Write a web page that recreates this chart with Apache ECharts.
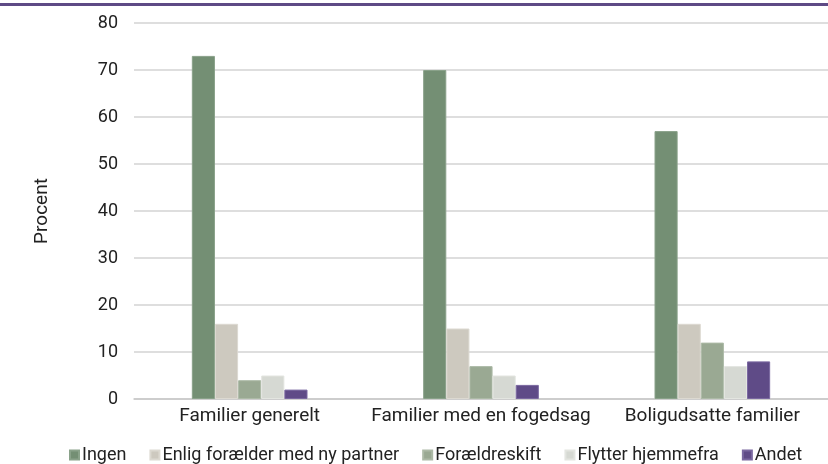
<!DOCTYPE html>
<html><head><meta charset="utf-8">
<script src="https://cdn.jsdelivr.net/npm/echarts@6/dist/echarts.min.js"></script>
<style>html,body{margin:0;padding:0;background:#fff}#c{width:828px;height:464px}</style>
</head><body><div id="c"></div>
<script>
const categories = ['Familier generelt', 'Familier med en fogedsag', 'Boligudsatte familier'];
const seriesNames = ['Ingen', 'Enlig forælder med ny partner', 'Forældreskift', 'Flytter hjemmefra', 'Andet'];
const ingen = [73, 70, 57];
const enlig = [16, 15, 16];
const foraeldreskift = [4, 7, 12];
const flytter = [5, 5, 7];
const andet = [2, 3, 8];
const yTicks = [0, 10, 20, 30, 40, 50, 60, 70, 80];
const colors = ['#748f74', '#cdc9bf', '#9aa993', '#d6d9d3', '#5f4b87'];
const borders = ['#8aa28a', '#dcd9d1', '#adbaa7', '#e3e5e0', '#7a68a0'];
const values = [ingen, enlig, foraeldreskift, flytter, andet];
const font = 'Roboto';
const chart = echarts.init(document.getElementById('c'), null, {renderer: 'canvas'});
chart.setOption({
  animation: false,
  textStyle: {fontFamily: font},
  graphic: [{type: 'rect', shape: {x: 0, y: 3, width: 828, height: 3}, style: {fill: '#5e4a85'}}],
  grid: {left: 134, right: 0, top: 23, bottom: 65},
  legend: {
    top: 441, left: 64, width: 764, itemWidth: 9, itemHeight: 9, itemGap: 23,
    icon: 'rect',
    textStyle: {fontFamily: font, fontSize: 18, color: '#222', padding: [0, 0, 0, -2]},
    data: seriesNames
  },
  xAxis: {
    type: 'category', data: categories,
    axisLine: {lineStyle: {color: '#c8c8c8', width: 1.5}},
    axisTick: {show: false},
    axisLabel: {fontFamily: font, fontSize: 19, color: '#222', margin: 8, interval: 0}
  },
  yAxis: {
    type: 'value', min: 0, max: 80, interval: 10,
    name: 'Procent', nameLocation: 'middle', nameGap: 82, nameRotate: 90,
    nameTextStyle: {fontFamily: font, fontSize: 19, color: '#222'},
    axisLine: {show: false}, axisTick: {show: false},
    splitLine: {lineStyle: {color: '#d3d3d3', width: 1.5}},
    axisLabel: {fontFamily: font, fontSize: 18, color: '#222', margin: 16,
      formatter: v => yTicks.includes(v) ? String(v) : ''}
  },
  series: seriesNames.map((n, i) => ({
    name: n, type: 'bar', data: values[i],
    barGap: '0%', barCategoryGap: '50%',
    itemStyle: {color: colors[i], borderColor: borders[i], borderWidth: 1}
  }))
});
</script></body></html>
